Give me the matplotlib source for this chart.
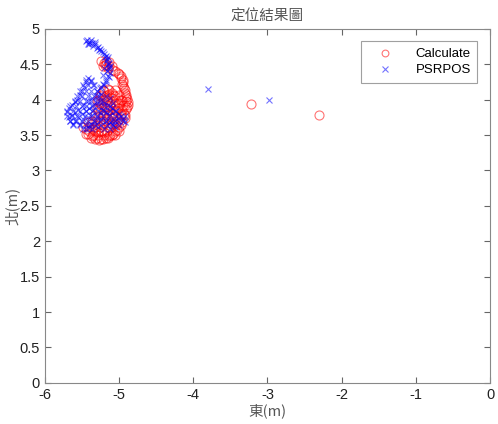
import matplotlib
matplotlib.use("Agg")
import matplotlib.pyplot as plt

plt.rcParams['font.family'] = ['Liberation Sans', 'Noto Sans CJK TC', 'DejaVu Sans']

# Calculate (red circles), east / north in metres
calc_x = [-5.20, -5.17, -5.13, -5.22, -5.15, -5.08, -5.02, -4.98, -4.95, -4.96,
          -4.93, -4.92, -4.90, -4.91, -4.88, -4.90, -4.93, -4.92, -4.96, -5.00,
          -5.03, -5.08, -5.13, -5.18, -5.24, -5.30, -5.36, -5.42, -5.45, -5.40,
          -5.35, -5.28, -5.20, -5.12, -5.05, -5.00, -4.98, -5.02, -5.06, -5.10,
          -5.14, -5.18, -5.22, -5.26, -5.20, -5.15, -5.10, -5.18, -5.25, -5.30,
          -5.28, -5.22, -5.15, -5.08, -5.05, -5.12, -5.16, -5.20, -5.15, -5.10,
          -5.05, -5.25, -5.30, -5.33, -5.38, -5.32, -5.25, -5.10, -5.02, -4.96,
          -4.95,
          -5.35, -5.28, -5.20, -5.12, -5.06, -5.40, -5.32, -5.24, -5.16, -5.06,
          -5.00, -5.30, -5.22, -5.14, -5.04, -4.97, -5.36, -5.26, -5.18, -5.10,
          -5.02, -5.32, -5.22, -5.14, -5.06, -4.98, -4.92, -5.28, -5.20, -5.12,
          -5.04, -4.96, -5.24, -5.16, -5.08, -5.00, -4.92, -5.28, -5.20, -5.12,
          -5.04, -4.98, -5.24, -5.16, -5.08, -5.00, -5.22, -5.14, -5.06,
          -5.18, -5.10, -5.05, -5.00, -4.97, -4.94, -4.94, -4.92, -4.91, -4.89,
          -4.88, -4.89, -5.45, -5.38, -5.33, -5.27, -5.21, -5.15, -5.10, -5.48,
          -5.42, -5.24, -5.19, -5.14,
          -3.22, -2.31]
calc_y = [4.52, 4.50, 4.48, 4.47, 4.45, 4.42, 4.38, 4.33, 4.28, 4.22,
          4.16, 4.10, 4.04, 3.98, 3.93, 3.87, 3.80, 3.74, 3.68, 3.62,
          3.57, 3.52, 3.48, 3.46, 3.44, 3.46, 3.48, 3.52, 3.58, 3.62,
          3.58, 3.55, 3.55, 3.60, 3.66, 3.72, 3.80, 3.88, 3.95, 4.02,
          4.08, 4.05, 4.00, 3.95, 3.90, 3.85, 3.80, 3.78, 3.82, 3.88,
          3.75, 3.70, 3.72, 3.75, 3.85, 3.92, 4.00, 4.12, 4.15, 4.10,
          4.05, 4.05, 3.98, 3.70, 3.65, 3.62, 3.62, 3.65, 3.95, 4.00,
          3.92,
          3.50, 3.50, 3.50, 3.50, 3.50, 3.56, 3.56, 3.56, 3.56, 3.56,
          3.56, 3.64, 3.64, 3.64, 3.64, 3.64, 3.70, 3.70, 3.70, 3.70,
          3.70, 3.78, 3.78, 3.78, 3.78, 3.78, 3.78, 3.85, 3.85, 3.85,
          3.85, 3.85, 3.92, 3.92, 3.92, 3.92, 3.92, 4.00, 4.00, 4.00,
          4.00, 4.00, 4.07, 4.07, 4.07, 4.07, 4.14, 4.14, 4.14,
          4.55, 4.47, 4.41, 4.36, 4.30, 4.25, 4.19, 4.13, 4.07, 4.01,
          3.96, 3.90, 3.52, 3.46, 3.44, 3.43, 3.44, 3.46, 3.50, 3.62,
          3.68, 4.54, 4.49, 4.53,
          3.94, 3.78]

# PSRPOS (blue crosses)
psr_x = [-5.45, -5.40, -5.36, -5.42, -5.35, -5.30, -5.27, -5.22, -5.18, -5.16,
         -5.14, -5.13, -5.16, -5.15, -5.18, -5.22, -5.26, -5.30, -5.35, -5.38,
         -5.42, -5.45, -5.47, -5.50, -5.53, -5.56, -5.60, -5.64, -5.68, -5.70,
         -5.68, -5.66, -5.62, -5.58, -5.55, -5.50, -5.45, -5.40, -5.35, -5.30,
         -5.25, -5.20, -5.15, -5.10, -5.05, -5.00, -5.02, -5.06, -5.12, -5.18,
         -5.24, -5.30, -5.36, -5.42, -5.48, -5.52, -5.45, -5.38, -5.32, -5.26,
         -5.22, -5.18, -5.12, -5.08, -5.12, -5.18, -5.24, -5.30, -5.36, -5.42,
         -5.48, -5.55, -5.60, -5.63, -5.20, -5.22, -5.10, -5.05, -5.40, -5.45,
         -5.35, -5.28, -4.95, -4.92,
         -5.43, -5.38, -5.33, -5.40, -5.32, -5.29, -5.25, -5.24, -5.20, -5.19,
         -5.15, -5.17, -5.15, -5.12, -5.14, -5.12, -5.14, -5.17, -5.20, -5.24,
         -5.45, -5.38, -5.48, -5.42, -5.34, -5.52, -5.45, -5.38, -5.30,
         -5.56, -5.50, -5.42, -5.34, -5.27, -5.60, -5.52, -5.45, -5.38, -5.30,
         -5.22, -5.66, -5.58, -5.50, -5.44, -5.36, -5.28, -5.20, -5.12,
         -5.70, -5.62, -5.52, -5.44, -5.36, -5.28, -5.20, -5.12, -5.04,
         -5.70, -5.64, -5.56, -5.46, -5.38, -5.30, -5.22, -5.14, -5.06, -4.98,
         -4.92, -5.66, -5.60, -5.50, -5.42, -5.34, -5.26, -5.18, -5.10, -5.02,
         -4.94, -5.62, -5.52, -5.40, -5.32, -5.24, -5.16, -5.08, -5.00,
         -5.48, -5.36, -5.20, -5.12,
         -3.80, -2.98]
psr_y = [4.83, 4.82, 4.80, 4.78, 4.76, 4.73, 4.70, 4.67, 4.62, 4.57,
         4.52, 4.46, 4.40, 4.34, 4.28, 4.22, 4.16, 4.12, 4.20, 4.26,
         4.30, 4.25, 4.18, 4.12, 4.06, 4.00, 3.96, 3.92, 3.88, 3.82,
         3.76, 3.70, 3.66, 3.70, 3.76, 3.80, 3.84, 3.88, 3.92, 3.95,
         3.98, 3.95, 3.92, 3.88, 3.84, 3.80, 3.74, 3.70, 3.68, 3.70,
         3.72, 3.75, 3.78, 3.76, 3.72, 3.66, 3.64, 3.66, 3.68, 3.82,
         3.86, 3.82, 3.78, 3.95, 4.02, 4.05, 4.08, 4.05, 4.02, 3.98,
         3.92, 3.86, 3.82, 3.78, 4.45, 4.35, 3.65, 3.62, 3.60, 3.58,
         3.85, 3.62, 3.72, 3.68,
         4.84, 4.84, 4.82, 4.79, 4.78, 4.75, 4.72, 4.68, 4.65, 4.60,
         4.60, 4.55, 4.50, 4.48, 4.43, 4.38, 4.32, 4.25, 4.20, 4.18,
         4.28, 4.28, 4.20, 4.20, 4.20, 4.12, 4.12, 4.12, 4.12,
         4.05, 4.05, 4.05, 4.05, 4.05, 3.98, 3.98, 3.98, 3.98, 3.98,
         3.98, 3.91, 3.91, 3.91, 3.91, 3.91, 3.91, 3.91, 3.91,
         3.84, 3.84, 3.84, 3.84, 3.84, 3.84, 3.84, 3.84, 3.84,
         3.77, 3.77, 3.77, 3.77, 3.77, 3.77, 3.77, 3.77, 3.77, 3.77,
         3.77, 3.70, 3.70, 3.70, 3.70, 3.70, 3.70, 3.70, 3.70, 3.70,
         3.70, 3.64, 3.64, 3.64, 3.64, 3.64, 3.64, 3.64, 3.64,
         3.58, 3.58, 3.58, 3.58,
         4.15, 4.00]

fig = plt.figure(figsize=(4.98, 4.24), dpi=100)
ax = fig.add_axes([0.090, 0.097, 0.894, 0.835])

ax.plot(calc_x, calc_y, 'o', color='#ff0000', mfc='none', ms=6.5, mew=0.8,
        alpha=0.55, label='Calculate')
ax.plot(psr_x, psr_y, 'x', color='#0000ff', ms=5, mew=0.8,
        alpha=0.55, label='PSRPOS')

ax.set_xlim(-6, 0)
ax.set_ylim(0, 5)
ax.set_xticks([-6, -5, -4, -3, -2, -1, 0])
ax.set_xticklabels(['-6', '-5', '-4', '-3', '-2', '-1', '0'])
ax.set_yticks([0, 0.5, 1, 1.5, 2, 2.5, 3, 3.5, 4, 4.5, 5])
ax.set_yticklabels(['0', '0.5', '1', '1.5', '2', '2.5', '3', '3.5', '4', '4.5', '5'])
ax.tick_params(direction='in', length=4, labelsize=10.5, colors='#666666',
               labelcolor='#222222', top=True, right=True)
for s in ax.spines.values():
    s.set_color('#888888')
    s.set_linewidth(0.8)

cjk = ['Noto Sans CJK TC', 'DejaVu Sans']
ax.set_title('定位結果圖', fontsize=10.5, color='#555555', pad=6, family=cjk)
ax.set_xlabel('東(m)', fontsize=10.5, color='#555555', labelpad=1, family=cjk)
ax.set_ylabel('北(m)', fontsize=10.5, color='#555555', labelpad=0, family=cjk)

leg = ax.legend(loc='upper right', fontsize=9.5, frameon=True, fancybox=False,
                borderaxespad=0.95, handletextpad=1.0, handlelength=2.6,
                labelspacing=0.3, borderpad=0.5, markerscale=0.75)
leg.get_frame().set_edgecolor('#888888')
leg.get_frame().set_linewidth(0.8)

fig.savefig('out.png', dpi=100)
